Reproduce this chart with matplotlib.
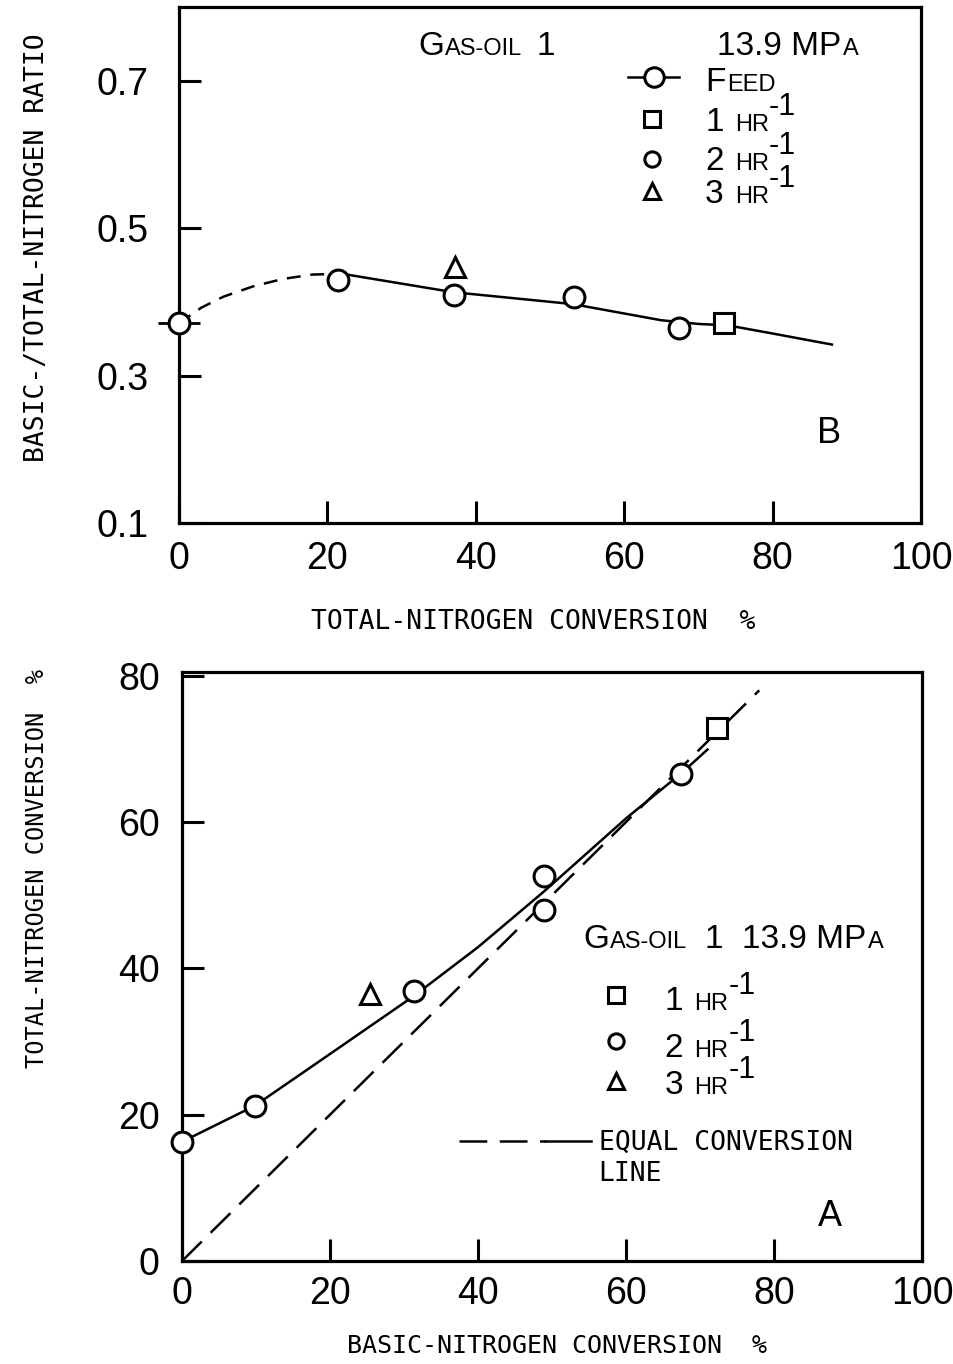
import matplotlib.pyplot as plt

plt.rcParams['font.family'] = ['Liberation Sans', 'DejaVu Sans']
plt.rcParams['lines.scale_dashes'] = False

# ===============================
# B: ratio vs total-N conversion
# ===============================
feed_x = [0.0]
feed_y = [0.371]
b_x_1hr = [73.4]
b_y_1hr = [0.371]
b_x_2hr = [21.4, 37.0, 53.3, 67.4]
b_y_2hr = [0.429, 0.409, 0.407, 0.364]
b_x_3hr = [37.2]
b_y_3hr = [0.447]
# hand drawn curves
b_dash_x = [0, 3, 6, 10, 14, 18, 22]
b_dash_y = [0.371, 0.392, 0.407, 0.421, 0.431, 0.437, 0.438]
b_solid_x = [22, 37, 53, 65, 70, 74, 80, 88]
b_solid_y = [0.438, 0.413, 0.397, 0.375, 0.370, 0.368, 0.357, 0.342]

# ===============================
# A: total-N vs basic-N conversion
# ===============================
a_x_1hr = [72.3]
a_y_1hr = [72.8]
a_x_2hr = [0.0, 9.8, 31.3, 48.9, 48.9, 67.4]
a_y_2hr = [16.3, 21.2, 36.9, 52.6, 48.0, 66.6]
a_x_3hr = [25.4]
a_y_3hr = [36.5]
a_fit_x = [0, 9.8, 20, 31.3, 40, 48.9, 60, 67.4, 71]
a_fit_y = [16.3, 21.2, 28.3, 36.2, 42.9, 50.5, 60.5, 66.6, 69.9]
equal_x = [0, 78]
equal_y = [0, 78]

b_xticks = [0, 20, 40, 60, 80, 100]
b_yticks = [0.1, 0.3, 0.5, 0.7]
a_xticks = [0, 20, 40, 60, 80, 100]
a_yticks = [0, 20, 40, 60, 80]

fig = plt.figure(figsize=(9.54, 13.64), dpi=100)
axB = fig.add_axes([0.1876, 0.6166, 0.7778, 0.3783])
axA = fig.add_axes([0.1908, 0.0755, 0.7757, 0.4318])

mk = dict(color='black', linestyle='none', markerfacecolor='white',
          markeredgecolor='black', markeredgewidth=2.2, clip_on=False, zorder=5)
lab = dict(family='DejaVu Sans Mono', fontsize=19)


def style(ax, pad_y):
    for s in ax.spines.values():
        s.set_linewidth(2.3)
    ax.tick_params(direction='in', length=16, width=2.2, labelsize=27)
    ax.tick_params(axis='y', pad=pad_y)


def chain(ax, x, y, parts):
    # parts: (text, size, gap_pt, dy_pt); first one placed at axes coords
    s, size = parts[0][0], parts[0][1]
    t = ax.text(x, y, s, transform=ax.transAxes, fontsize=size, ha='left', va='baseline')
    for s, size, dx, dy in parts[1:]:
        t = ax.annotate(s, xy=(1, 0), xycoords=t, xytext=(dx, dy),
                        textcoords='offset points', fontsize=size, ha='left', va='bottom')
    return t


# ----- panel B -----
ax = axB
ax.plot(b_dash_x, b_dash_y, color='black', lw=1.8, dashes=(10, 7))
ax.plot(b_solid_x, b_solid_y, color='black', lw=1.8)
ax.plot(feed_x, feed_y, marker='_', markersize=30, markeredgewidth=2.0,
        color='black', linestyle='none', clip_on=False, zorder=4)
ax.plot(feed_x, feed_y, marker='o', markersize=15, **mk)
ax.plot(b_x_2hr, b_y_2hr, marker='o', markersize=15, **mk)
ax.plot(b_x_1hr, b_y_1hr, marker='s', markersize=14, **mk)
ax.plot(b_x_3hr, b_y_3hr, marker='^', markersize=14, **mk)
ax.set_xlim(0, 100)
ax.set_ylim(0.1, 0.8)
ax.set_xticks(b_xticks)
ax.set_yticks(b_yticks)
ax.set_yticklabels([f'{v:.1f}' for v in b_yticks])
style(ax, 22)
ax.tick_params(axis='x', pad=13)

chain(ax, 0.322, 0.907, [('G', 24), ('AS-OIL', 17, 1, 1.5), ('1', 24, 10, -1.5)])
chain(ax, 0.725, 0.907, [('13.9 MP', 24), ('A', 17, 1, 1.5)])
# legend
ax.plot([0.605, 0.674], [0.864, 0.864], transform=ax.transAxes, color='black', lw=1.8, clip_on=False)
ax.plot([0.640], [0.864], transform=ax.transAxes, marker='o', markersize=14, **mk)
chain(ax, 0.709, 0.837, [('F', 24), ('EED', 17, 1, 1.5)])
ax.plot([0.637], [0.783], transform=ax.transAxes, marker='s', markersize=11, **mk)
ax.plot([0.637], [0.705], transform=ax.transAxes, marker='o', markersize=11, **mk)
ax.plot([0.637], [0.643], transform=ax.transAxes, marker='^', markersize=11, **mk)
for n, yb in [('1', 0.760), ('2', 0.684), ('3', 0.620)]:
    chain(ax, 0.709, yb, [(n, 24), ('HR', 17, 8, 1.5), ('-1', 22, 0, 10)])
ax.text(0.876, 0.174, 'B', transform=ax.transAxes, fontsize=26, ha='center', va='center')
ax.text(0.477, -0.192, 'TOTAL-NITROGEN CONVERSION  %', transform=ax.transAxes,
        ha='center', va='center', **lab)
ax.text(-0.191, 0.533, 'BASIC-/TOTAL-NITROGEN RATIO', transform=ax.transAxes,
        ha='center', va='center', rotation=90, **lab)

# ----- panel A -----
ax = axA
ax.plot(equal_x, equal_y, color='black', lw=1.8, dashes=(20, 9))
ax.plot(a_fit_x, a_fit_y, color='black', lw=1.8)
ax.plot(a_x_2hr, a_y_2hr, marker='o', markersize=15, **mk)
ax.plot(a_x_1hr, a_y_1hr, marker='s', markersize=14, **mk)
ax.plot(a_x_3hr, a_y_3hr, marker='^', markersize=14, **mk)
ax.set_xlim(0, 100)
ax.set_ylim(0, 80.5)
ax.set_xticks(a_xticks)
ax.set_yticks(a_yticks)
style(ax, 16)
ax.tick_params(axis='x', pad=11)

chain(ax, 0.542, 0.531, [('G', 24), ('AS-OIL', 17, 1, 1.5), ('1', 24, 12, -1.5),
                         ('13.9 MP', 24, 14, 0), ('A', 17, 1, 1.5)])
ax.plot([0.587], [0.452], transform=ax.transAxes, marker='s', markersize=11, **mk)
ax.plot([0.587], [0.373], transform=ax.transAxes, marker='o', markersize=11, **mk)
ax.plot([0.587], [0.305], transform=ax.transAxes, marker='^', markersize=11, **mk)
for n, yb in [('1', 0.426), ('2', 0.347), ('3', 0.283)]:
    chain(ax, 0.652, yb, [(n, 24), ('HR', 17, 8, 1.5), ('-1', 22, 0, 10)])
ax.plot([0.374, 0.49], [0.203, 0.203], transform=ax.transAxes, color='black', lw=1.8, dashes=(20, 9))
ax.plot([0.49, 0.553], [0.203, 0.203], transform=ax.transAxes, color='black', lw=1.8)
ax.text(0.563, 0.188, 'EQUAL CONVERSION', transform=ax.transAxes, ha='left', va='baseline', **lab)
ax.text(0.563, 0.136, 'LINE', transform=ax.transAxes, ha='left', va='baseline', **lab)
ax.text(0.876, 0.075, 'A', transform=ax.transAxes, fontsize=26, ha='center', va='center')
ax.text(0.507, -0.144, 'BASIC-NITROGEN CONVERSION  %', transform=ax.transAxes,
        ha='center', va='center', family='DejaVu Sans Mono', fontsize=18)
ax.text(-0.196, 0.667, 'TOTAL-NITROGEN CONVERSION  %', transform=ax.transAxes,
        ha='center', va='center', rotation=90, family='DejaVu Sans Mono', fontsize=17)

fig.savefig('out.png', dpi=100)
